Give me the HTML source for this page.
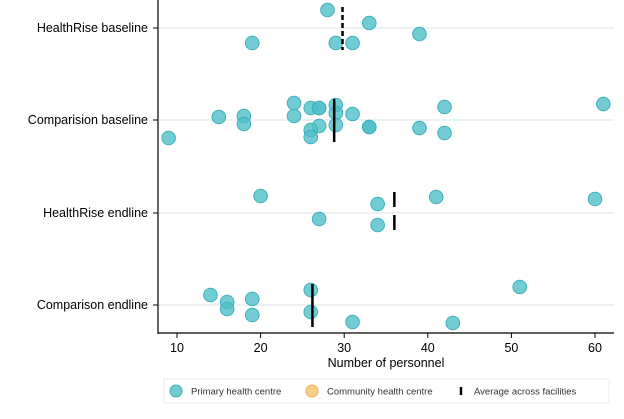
<!DOCTYPE html>
<html><head><meta charset="utf-8"><style>
body{margin:0;background:#fff;}
svg{display:block;font-family:"Liberation Sans",Arial,sans-serif;}
</style></head><body>
<svg id="chart" width="624" height="419"></svg>
<script>
const categories=["HealthRise baseline","Comparision baseline","HealthRise endline","Comparison endline"];
const rowY=[28,120,213,305];
const xTicks=[10,20,30,40,50,60];
const valsHB=[28,33,39,19,29,31];
const offHB=[-18,-5,6,15,15,15];
const valsCB=[24,26,27,27,29,29,31,42,61,15,18,18,24,27,26,26,29,33,33,39,42,9];
const offCB=[-17,-12,-12,-12,-15,-7,-6,-13,-16,-3,-4,4,-4,6,10,17,5,7,7,8,13,18];
const valsHE=[20,41,60,34,27,34];
const offHE=[-17,-16,-14,-9,6,12];
const valsCE=[14,16,16,19,19,26,26,51,31,43];
const offCE=[-10,-3,4,-6,10,-15,7,-18,17,18];
const means=[29.8,28.8,36,26.2];
const meanDashed=[true,false,true,false];
const series=[[valsHB,offHB],[valsCB,offCB],[valsHE,offHE],[valsCE,offCE]];
const NS="http://www.w3.org/2000/svg";
const svg=document.getElementById('chart');
const x=v=>177+(v-10)*8.36;
function mk(t,a,p){const e=document.createElementNS(NS,t);for(const k in a)e.setAttribute(k,a[k]);(p||svg).appendChild(e);return e;}
rowY.forEach((y,i)=>{
 const g=mk('line',{x1:159,x2:614,y1:y,y2:y,stroke:'#e6eef0','stroke-width':1.5});
 
 
 const tk=mk('line',{x1:153,x2:158,y1:y,y2:y,stroke:'#000'});
 
 
 const t=mk('text',{x:148,y:y+4,'text-anchor':'end','font-size':12.5,fill:'#000'});
 t.textContent=categories[i];
 
 
});
const ya=mk('line',{x1:158,x2:158,y1:0,y2:334,stroke:'#000','stroke-width':1.2});


const xa=mk('line',{x1:158,x2:614,y1:333,y2:333,stroke:'#000','stroke-width':1.2});


xTicks.forEach(v=>{
 const tk=mk('line',{x1:x(v),x2:x(v),y1:333,y2:338,stroke:'#000'});
 
 
 const t=mk('text',{x:x(v),y:352,'text-anchor':'middle','font-size':12.5,fill:'#000'});
 t.textContent=v;
 
 
});
const at=mk('text',{x:386,y:367,'text-anchor':'middle','font-size':12.5,fill:'#000'});
at.textContent='Number of personnel';


series.forEach((s,i)=>{
 s[0].forEach((v,j)=>{
  const c=mk('circle',{cx:x(v),cy:rowY[i]+s[1][j],r:6.8,fill:'#4fbfc9','fill-opacity':0.8,stroke:'#3fb0ba','stroke-width':1});
  
  
 });
 const m=mk('line',{x1:x(means[i]),x2:x(means[i]),y1:rowY[i]-21,y2:rowY[i]+22,stroke:'#000','stroke-width':2.5});
 if(meanDashed[i])m.setAttribute('stroke-dasharray',i==2?'15,8':'5,3');
 
 
});
const lg=mk('g',{});


mk('rect',{x:164,y:379,width:445,height:24,fill:'#fff',stroke:'#eee'},lg);
const e1=mk('circle',{cx:176,cy:391,r:6,fill:'#4fbfc9','fill-opacity':0.8,stroke:'#3fb0ba'},lg);


const t1=mk('text',{x:191,y:394.5,'font-size':9.5,fill:'#333'},lg);t1.textContent='Primary health centre';


const e2=mk('circle',{cx:312,cy:391,r:6,fill:'#f7c26b','fill-opacity':0.8,stroke:'#f0b050'},lg);


const t2=mk('text',{x:327,y:394.5,'font-size':9.5,fill:'#333'},lg);t2.textContent='Community health centre';


const e3=mk('line',{x1:461,x2:461,y1:387,y2:395,stroke:'#000','stroke-width':2.5},lg);


const t3=mk('text',{x:474,y:394.5,'font-size':9.5,fill:'#333'},lg);t3.textContent='Average across facilities';


</script>
</body></html>
